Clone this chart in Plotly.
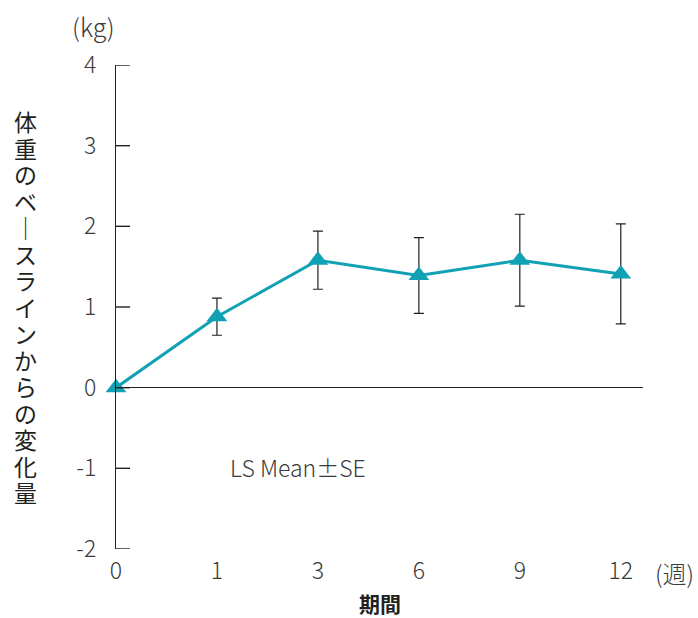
import plotly.graph_objects as go

weeks = ["0", "1", "3", "6", "9", "12"]
ls_mean = [0.0, 0.88, 1.58, 1.39, 1.58, 1.41]
se = [0.0, 0.23, 0.36, 0.47, 0.57, 0.62]
y_ticks = [-2, -1, 0, 1, 2, 3, 4]
y_title_chars = ["体", "重", "の", "ベ", "｜", "ス", "ラ", "イ", "ン", "か", "ら", "の", "変", "化", "量"]

FONT = "Noto Sans CJK JP"
TXT = "#231f20"
GRY = "#3a3a3a"
TEAL = "#10a1b5"

xpos = list(range(len(weeks)))

W, H = 698, 618
L, R, T, B = 116, 55, 65, 69
pw, ph = W - L - R, H - T - B

def px(xp):
    return (xp - L) / pw

def py(yp):
    return (H - B - yp) / ph

fig = go.Figure()
fig.add_trace(go.Scatter(
    x=xpos, y=ls_mean,
    mode="lines+markers",
    line=dict(color=TEAL, width=3),
    marker=dict(symbol="triangle-up", size=18, color=TEAL),
    error_y=dict(type="data", array=se, visible=True, color=TXT, thickness=1.2, width=5),
    cliponaxis=False,
    showlegend=False,
))

fig.update_layout(
    width=W, height=H,
    margin=dict(l=L, r=R, t=T, b=B),
    paper_bgcolor="white", plot_bgcolor="white",
    font=dict(family=FONT, color=TXT, size=22, weight=300),
    xaxis=dict(
        range=[0, 5.22], tickvals=xpos, ticktext=weeks,
        showgrid=False, zeroline=False, showline=False, ticks="",
        ticklabelstandoff=6,
        tickfont=dict(size=23, color=GRY, weight=300), fixedrange=True,
    ),
    yaxis=dict(
        range=[-2, 4], tickvals=y_ticks, ticktext=[str(v) for v in y_ticks],
        showgrid=False, zeroline=True, zerolinecolor=TXT, zerolinewidth=1.4,
        showline=True, linecolor=TXT, linewidth=1.4,
        ticks="", ticklabelstandoff=14,
        tickfont=dict(size=23, color=GRY, weight=300),
    ),
)

# inward tick marks on the y axis
for v in y_ticks:
    fig.add_shape(type="line", xref="x domain", yref="y", x0=0, x1=14 / pw, y0=v, y1=v,
                  line=dict(color=TXT, width=1.4))

fig.add_annotation(x=px(93), y=py(26), xref="paper", yref="paper", text="(kg)", showarrow=False,
                   font=dict(size=25, color=GRY, weight=300), xanchor="center", yanchor="middle")
fig.add_annotation(x=px(696), y=py(572), xref="paper", yref="paper", text="(週)", showarrow=False,
                   font=dict(size=24, color=GRY, weight=300), xanchor="right", yanchor="middle")
fig.add_annotation(x=px(380), y=py(603), xref="paper", yref="paper", text="<b>期間</b>", showarrow=False,
                   font=dict(size=21, color=TXT), xanchor="center", yanchor="middle")
fig.add_annotation(x=px(228), y=py(467), xref="paper", yref="paper", text="LS Mean±SE", showarrow=False,
                   font=dict(size=23, color=GRY, weight=300), xanchor="left", yanchor="middle")

top_c, bot_c = 121, 492
step = (bot_c - top_c) / (len(y_title_chars) - 1)
for i, ch in enumerate(y_title_chars):
    fig.add_annotation(x=px(25), y=py(top_c + i * step), xref="paper", yref="paper",
                       text=ch, showarrow=False, height=26, valign="middle",
                       font=dict(size=23, color=TXT, weight=400), xanchor="center", yanchor="middle")

fig.write_html(
    "out.html",
    config={"displayModeBar": False},
    post_script="document.body.style.margin='0';document.body.style.overflow='hidden';",
)
